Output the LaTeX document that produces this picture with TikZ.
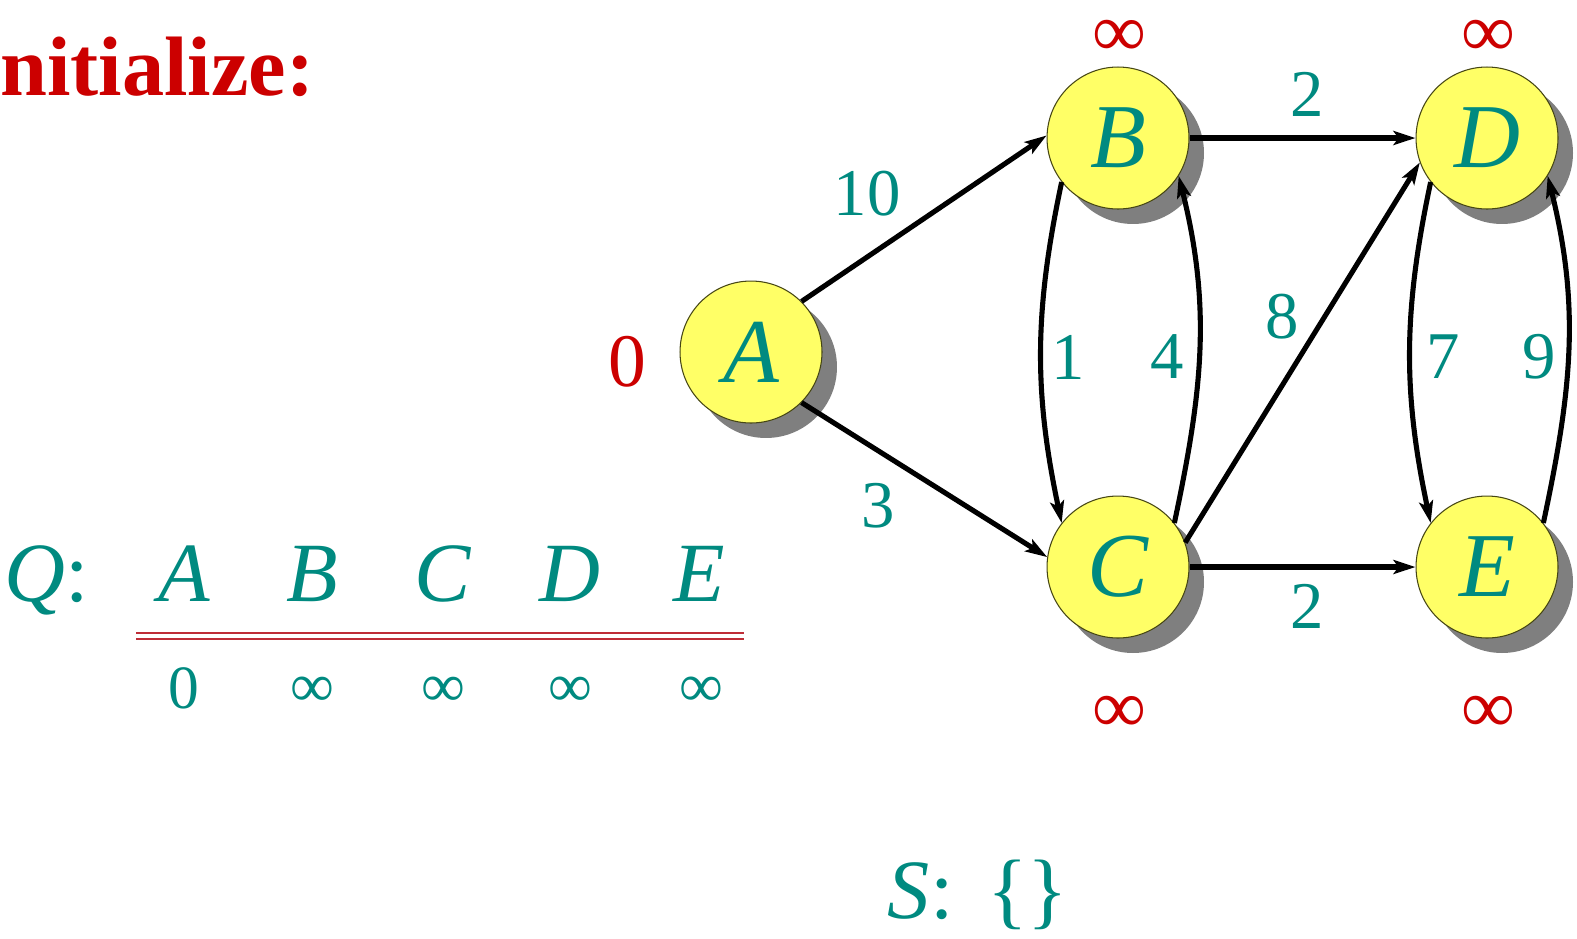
\documentclass[tikz,border=0pt]{standalone}
\usepackage{fontspec}
\setmainfont{Liberation Serif}
\usetikzlibrary{arrows.meta,shadows}
\definecolor{tealc}{RGB}{0,138,128}
\definecolor{redc}{RGB}{204,0,0}
\definecolor{yelc}{RGB}{255,255,102}
\definecolor{rimc}{RGB}{70,70,20}
\definecolor{dblc}{RGB}{190,45,55}
\tikzset{
  vert/.style={circle, minimum size=2.84cm, inner sep=0pt, draw=rimc, line width=0.6pt, fill=yelc,
    drop shadow={shadow xshift=0.3cm, shadow yshift=-0.3cm, fill=black, opacity=0.5},
    text=tealc, font=\fontsize{52}{52}\selectfont\itshape},
  wlab/.style={text=tealc, inner sep=0pt, font=\fontsize{38}{38}\selectfont},
  dist/.style={text=redc, inner sep=0pt, font=\fontsize{43}{43}\selectfont},
  qlet/.style={text=tealc, inner sep=0pt, anchor=base, font=\fontsize{48}{48}\selectfont\itshape},
  qnum/.style={text=tealc, inner sep=0pt, anchor=base, font=\fontsize{35}{35}\selectfont},
  edge/.style={line width=2.9pt, -{Stealth[length=0.44cm,width=0.28cm,inset=0.1cm]}},
}
\begin{document}
\begin{tikzpicture}[x=0.02cm,y=-0.02cm]
\useasboundingbox (0,0) rectangle (1577,938);
% title
\node[anchor=base west, inner sep=0pt, text=redc, font=\fontsize{48}{48}\selectfont\bfseries] (title) at (0,95) {nitialize:};
% vertices
\node[vert] (A) at (751,352) {A};
\node[vert] (B) at (1118,138) {B};
\node[vert] (C) at (1118,567) {C};
\node[vert] (D) at (1487,138) {D};
\node[vert] (E) at (1487,567) {E};
% edges
\draw[edge] (A.45) -- (B.178);
\draw[edge] (A.-45) -- (C.172);
\draw[edge] (B.east) -- (D.west);
\draw[edge] (C.east) -- (E.west);
\draw[edge] (C.20) -- (D.200);
\draw[edge] (B.218) to[out=258,in=102] (C.142);
\draw[edge] (C.38) to[out=78,in=-76] (B.328);
\draw[edge] (D.218) to[out=258,in=102] (E.142);
\draw[edge] (E.38) to[out=78,in=-76] (D.328);
% weights
\node[wlab] (w10) at (867,194) {10};
\node[wlab] (w3) at (878,506) {3};
\node[wlab] (w2a) at (1307,94) {2};
\node[wlab] (w2b) at (1307,606) {2};
\node[wlab] (w1) at (1068,357) {1};
\node[wlab] (w4) at (1167,357) {4};
\node[wlab] (w8) at (1282,317) {8};
\node[wlab] (w7) at (1443,357) {7};
\node[wlab] (w9) at (1539,357) {9};
% distances
\node[dist, anchor=base] (dA) at (627,386) {0};
\node[dist] (dB) at (1119,38) {∞};
\node[dist] (dD) at (1488,38) {∞};
\node[dist] (dC) at (1119,714) {∞};
\node[dist] (dE) at (1488,714) {∞};
% queue
\node[qlet] (qQ) at (47,601) {Q\upshape{}:};
\node[qlet] (qA) at (184,601) {A};
\node[qlet] (qB) at (312,601) {B};
\node[qlet] (qC) at (443,601) {C};
\node[qlet] (qD) at (570,601) {D};
\node[qlet] (qE) at (699,601) {E};
\draw[dblc, line width=1.3pt] (136,633) -- (744,633);
\draw[dblc, line width=1.3pt] (136,639) -- (744,639);
\node[qnum] (nA) at (184,708) {0};
\node[qnum] (nB) at (312,706) {∞};
\node[qnum] (nC) at (443,706) {∞};
\node[qnum] (nD) at (570,706) {∞};
\node[qnum] (nE) at (701,706) {∞};
% S
\node[qlet] (S) at (978,918) {S\upshape{}:\hspace{0.4em}\{\}};
\end{tikzpicture}
\end{document}
